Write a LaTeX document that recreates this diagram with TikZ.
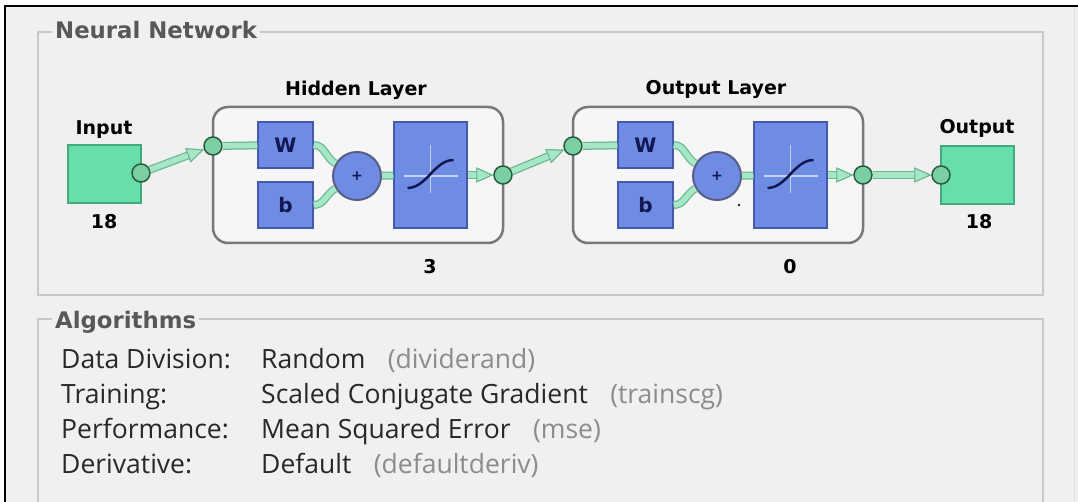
\documentclass[tikz,border=0pt]{standalone}
\usepackage{fontspec}
\setmainfont{Open Sans}
\newfontfamily\boldlabel{DejaVu Sans}
\usetikzlibrary{positioning}
\usetikzlibrary{arrows.meta}
\definecolor{panel}{RGB}{240,240,240}
\definecolor{framegray}{RGB}{200,200,200}
\definecolor{titlegray}{RGB}{88,88,88}
\definecolor{layeredge}{RGB}{120,120,120}
\definecolor{layerfill}{RGB}{246,246,246}
\definecolor{greenbox}{RGB}{104,222,170}
\definecolor{greenedge}{RGB}{66,170,125}
\definecolor{bluebox}{RGB}{110,140,228}
\definecolor{blueedge}{RGB}{68,88,172}
\definecolor{navy}{RGB}{18,24,80}
\definecolor{portfill}{RGB}{122,208,162}
\definecolor{portedge}{RGB}{38,92,62}
\definecolor{wirefill}{RGB}{168,230,200}
\definecolor{wireedge}{RGB}{104,184,144}
\definecolor{crossline}{RGB}{196,208,246}
\definecolor{labeltext}{RGB}{40,40,40}
\definecolor{fntext}{RGB}{140,140,140}

\begin{document}
\begin{tikzpicture}[x=1pt, y=-1pt,
    every node/.style={inner sep=0pt},
    frameline/.style={draw=framegray, line width=1.5pt},
    grouptitle/.style={font=\boldlabel\bfseries\fontsize{22.8}{26}\selectfont, text=titlegray, fill=panel, inner xsep=3pt, inner ysep=1pt, anchor=base west},
    layerbox/.style={draw=layeredge, fill=layerfill, line width=2.5pt, rounded corners=15pt, minimum width=290pt, minimum height=136pt},
    iobox/.style={draw=greenedge, fill=greenbox, line width=2pt, minimum width=73pt, minimum height=58pt},
    wbbox/.style={draw=blueedge, fill=bluebox, line width=1.5pt, minimum width=55pt, minimum height=46pt, text=navy, font=\boldlabel\bfseries\fontsize{20}{22}\selectfont},
    sumnode/.style={circle, draw=navy!70, fill=bluebox, line width=2pt, minimum size=48pt, text=navy, font=\boldlabel\bfseries\fontsize{14}{16}\selectfont},
    tfbox/.style={draw=blueedge, fill=bluebox, line width=1.5pt, minimum width=73pt, minimum height=106pt},
    port/.style={circle, draw=portedge, fill=portfill, line width=1.5pt, minimum size=18pt},
    wire/.style={draw=wirefill, line width=5.5pt, preaction={draw=wireedge, line width=8pt}},
    flow/.style={wire, -{Triangle[length=17pt, width=15pt, line width=1pt, color=wireedge, fill=wirefill]}},
    boldtext/.style={text=black, font=\boldlabel\bfseries\fontsize{19}{22}\selectfont},
    listtext/.style={text=labeltext, font=\fontsize{26.5}{30}\selectfont, anchor=base west},
    fntext/.style={listtext, text=fntext},
]
    \useasboundingbox (0,0) rectangle (1078,502);
    \clip (0,0) rectangle (1078,502);
    \fill[white] (0,0) rectangle (1078,502);
    \fill[panel] (5,6) rectangle (1078,502);
    \draw[black, line width=2pt] (5,502) -- (5,6) -- (1078,6);
    \draw[black!12, line width=1pt] (1074,7) -- (1074,502);

    % group frames
    \draw[frameline] (38,32) rectangle (1043,295);
    \node[grouptitle] (nn-title) at (52,39) {Neural Network};
    \draw[frameline] (38,510) -- (38,319) -- (1043,319) -- (1043,510);
    \node[grouptitle] (alg-title) at (52,328) {Algorithms};

    % input and output blocks
    \node[iobox] (inbox) at (104.5,174) {};
    \node[port] (in-port) at (141,173) {};
    \node[boldtext] (in-label) at (104,130) {Input};
    \node[boldtext] (in-size) at (104,222) {18};

    \node[iobox] (outbox) at (977.5,175) {};
    \node[port] (outbox-port) at (941,175) {};
    \node[boldtext] (out-label) at (977,128) {Output};
    \node[boldtext] (out-size) at (979,222) {18};

    % layers
    \foreach \n/\x/\title/\units in {hid/213/Hidden Layer/3, out/573/Output Layer/0} {
        \node[layerbox] (\n) at (\x+145,175) {};
        \node[boldtext] (\n-title) at (\x+143,90) {\title};
        \node[wbbox] (\n-W) at (\x+72.5,145) {W};
        \node[wbbox] (\n-b) at (\x+72.5,205) {b};
        \node[sumnode] (\n-sum) at (\x+144,176) {+};
        \node[tfbox] (\n-tf) at (\x+217.5,175) {};
        \node[port] (\n-in) at (\x,146) {};
        \node[port] (\n-out) at (\x+290,175) {};
        \node[boldtext] (\n-units) at (\x+217,267) {\units};

        \begin{scope}[shift={(\n-tf.center)}]
            \draw[crossline, line width=1.5pt] (-27,1) -- (27,1) (0,-30) -- (0,18);
            \draw[navy, line width=2.5pt] (-23,13) .. controls (-4,13) and (4,-15) .. (23,-15);
        \end{scope}

        \draw[wire] (\n-in) -- (\n-W);
        \draw[wire] (\n-W.east) to[out=0, in=150] (\n-sum);
        \draw[wire] (\n-b.east) to[out=0, in=210] (\n-sum);
        \draw[wire] (\n-sum) -- (\n-tf);
        \draw[flow] (\n-tf) -- (\n-out);
    }
    \fill[navy] (739,205) circle (1.3pt);

    \draw[flow] (in-port) -- (hid-in);
    \draw[flow] (hid-out) -- (out-in);
    \draw[flow] (out-out) -- (outbox-port);

    % algorithm list
    \foreach \lab/\val/\fn/\y [count=\r] in {Data Division:/Random/(dividerand)/368,
            Training:/Scaled Conjugate Gradient/(trainscg)/403,
            Performance:/Mean Squared Error/(mse)/438,
            Derivative:/Default/(defaultderiv)/473} {
        \node[listtext] (lab\r) at (61,\y) {\lab};
        \node[listtext] (val\r) at (261,\y) {\val};
        \node[fntext, base right=22pt of val\r] (fn\r) {\fn};
    }
\end{tikzpicture}
\end{document}
